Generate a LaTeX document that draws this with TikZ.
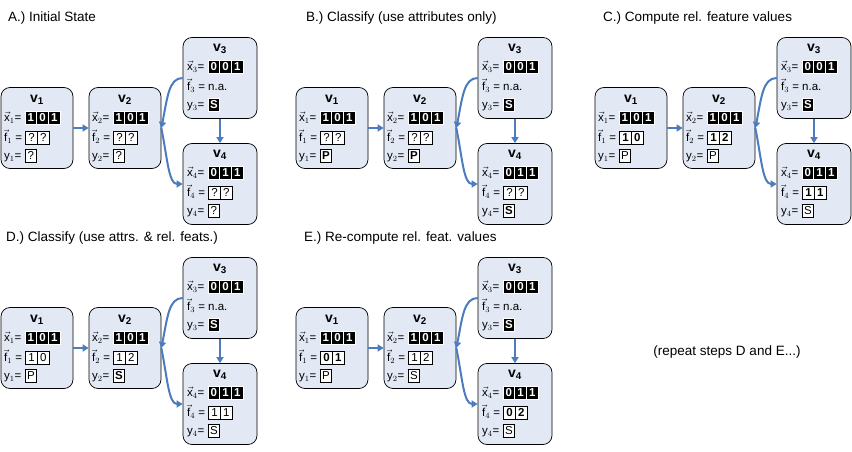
\documentclass[tikz,border=0pt]{standalone}
\usepackage{fontspec}
\setmainfont{Liberation Sans}
\usetikzlibrary{arrows.meta}
\definecolor{boxfill}{RGB}{226,232,244}
\definecolor{arrc}{RGB}{74,124,190}
\setlength\fboxsep{0.4pt}
\setlength\fboxrule{0.9pt}
\newcommand\cs{\rule[-1.8pt]{0pt}{10.5pt}}
\newcommand\Bk[1]{\fcolorbox{white}{black}{\makebox[10pt]{\color{white}\bfseries\cs #1}}\kern-0.9pt}
\newcommand\Wc[1]{\fcolorbox{black}{white}{\makebox[10pt]{\cs #1}}\kern-0.9pt}
\newcommand\Wb[1]{\fcolorbox{black}{white}{\makebox[10pt]{\bfseries\cs #1}}\kern-0.9pt}
\tikzset{
 vbox/.style={draw=black, line width=0.7pt, fill=boxfill, rounded corners=9pt, minimum width=72pt, minimum height=81pt, inner sep=0},
 ttl/.style={font=\fontsize{14}{16}\selectfont},
 row/.style={anchor=west, inner sep=0, font=\fontsize{11.5}{12}\selectfont},
 head/.style={anchor=west, font=\fontsize{13.5}{15}\selectfont, inner sep=0},
 arr/.style={draw=arrc, line width=2pt, -{Triangle[length=6pt,width=7pt]}},
}
\newcommand\vtitle[1]{\textbf{v}$_{\mathbf{#1}}$}
\newcommand\panel[9]{%
\begin{scope}[shift={(#1,#2)}]
 \node[vbox] (#3a) at (36,128) {};
 \node[vbox] (#3b) at (124,128) {};
 \node[vbox, minimum width=74pt] (#3c) at (219,78) {};
 \node[vbox, minimum width=74pt] (#3d) at (219,184) {};
 \node[ttl] at (36,100) {\vtitle{1}};
 \node[row] at (3,118) {$\vec{\mathrm{x}}_1$= \Bk{1}\Bk{0}\Bk{1}};
 \node[row] at (3,137) {$\vec{\mathrm{f}}_1$ = #4};
 \node[row] at (3,156) {y$_1$= #5};
 \node[ttl] at (124,100) {\vtitle{2}};
 \node[row] at (91,118) {$\vec{\mathrm{x}}_2$= \Bk{1}\Bk{0}\Bk{1}};
 \node[row] at (91,137) {$\vec{\mathrm{f}}_2$ = #6};
 \node[row] at (91,156) {y$_2$= #7};
 \node[ttl] at (219,49) {\vtitle{3}};
 \node[row] at (186,67) {$\vec{\mathrm{x}}_3$= \Bk{0}\Bk{0}\Bk{1}};
 \node[row] at (186,86) {$\vec{\mathrm{f}}_3$ = n.a.};
 \node[row] at (186,105) {y$_3$= \Bk{S}};
 \node[ttl] at (219,155) {\vtitle{4}};
 \node[row] at (186,173) {$\vec{\mathrm{x}}_4$= \Bk{0}\Bk{1}\Bk{1}};
 \node[row] at (186,192) {$\vec{\mathrm{f}}_4$ = #8};
 \node[row] at (186,211) {y$_4$= #9};
 \draw[arr] (#3a) -- (#3b);
 \draw[arr] (#3c) -- (#3d);
 \draw[arr] (#3c.west) .. controls +(-14,0) and +(6,-30) .. (#3b.east);
 \draw[arr] (#3b.east) .. controls +(6,30) and +(-14,0) .. (#3d.west);
\end{scope}}
\begin{document}
\begin{tikzpicture}[x=1pt,y=-1pt]
\useasboundingbox (0,0) rectangle (852,452);
\node[head] at (8,18) {A.) Initial State};
\node[head] at (306,18) {B.) Classify (use attributes only)};
\node[head] at (603,18) {C.) Compute rel. feature values};
\node[head] at (6,238) {D.) Classify (use attrs. \& rel. feats.)};
\node[head] at (304,238) {E.) Re-compute rel. feat. values};
\node[font=\fontsize{13.5}{15}\selectfont] at (727,352) {(repeat steps D and E...)};
\panel{1}{0}{A}{\Wc{?}\Wc{?}}{\Wc{?}}{\Wc{?}\Wc{?}}{\Wc{?}}{\Wc{?}\Wc{?}}{\Wc{?}}
\panel{296}{0}{B}{\Wc{?}\Wc{?}}{\Wb{P}}{\Wc{?}\Wc{?}}{\Wb{P}}{\Wc{?}\Wc{?}}{\Wb{S}}
\panel{595}{0}{C}{\Wb{1}\Wb{0}}{\Wc{P}}{\Wb{1}\Wb{2}}{\Wc{P}}{\Wb{1}\Wb{1}}{\Wc{S}}
\panel{1}{220}{D}{\Wc{1}\Wc{0}}{\Wc{P}}{\Wc{1}\Wc{2}}{\Wb{S}}{\Wc{1}\Wc{1}}{\Wc{S}}
\panel{296}{220}{E}{\Wb{0}\Wb{1}}{\Wc{P}}{\Wc{1}\Wc{2}}{\Wc{S}}{\Wb{0}\Wb{2}}{\Wc{S}}
\end{tikzpicture}
\end{document}
